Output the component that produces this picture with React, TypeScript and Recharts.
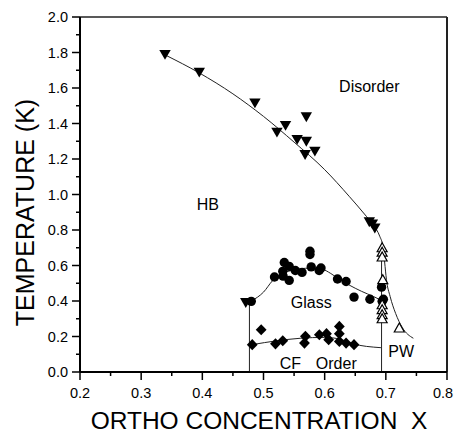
import React from 'react';
import { ComposedChart, XAxis, YAxis, Scatter, Line, ReferenceLine } from 'recharts';

const FONT = '"Liberation Sans", Arial, Helvetica, sans-serif';

const xMajorTicks = [0.2, 0.3, 0.4, 0.5, 0.6, 0.7, 0.8];
const xMinorTicks = [0.25, 0.35, 0.45, 0.55, 0.65, 0.75];
const yMajorTicks = [0, 0.2, 0.4, 0.6, 0.8, 1.0, 1.2, 1.4, 1.6, 1.8, 2.0];
const yMinorTicks = [0.1, 0.3, 0.5, 0.7, 0.9, 1.1, 1.3, 1.5, 1.7, 1.9];

// Filled down-triangles (HB -> Disorder transition)
const hbTriangles: [number, number][] = [
  [0.339, 1.788], [0.395, 1.688], [0.486, 1.515], [0.522, 1.35], [0.536, 1.388],
  [0.555, 1.309], [0.570, 1.437], [0.570, 1.299], [0.568, 1.224], [0.584, 1.243],
  [0.673, 0.845], [0.678, 0.833], [0.682, 0.81], [0.471, 0.39],
];

// Open up-triangles (PW boundary)
const pwTriangles: [number, number][] = [
  [0.694, 0.70], [0.694, 0.675], [0.694, 0.648], [0.695, 0.52],
  [0.694, 0.379], [0.694, 0.351], [0.694, 0.323], [0.694, 0.30], [0.722, 0.248],
];

// Filled circles (glass transition)
const glassCircles: [number, number][] = [
  [0.480, 0.398], [0.518, 0.535], [0.532, 0.54], [0.534, 0.617], [0.5315, 0.567],
  [0.542, 0.595], [0.542, 0.516], [0.552, 0.572], [0.563, 0.561], [0.576, 0.68],
  [0.576, 0.662], [0.578, 0.592], [0.591, 0.572], [0.594, 0.586], [0.621, 0.524],
  [0.635, 0.51], [0.648, 0.422], [0.674, 0.41], [0.693, 0.478], [0.694, 0.398],
  [0.696, 0.41],
];

// Filled diamonds (CF order)
const orderDiamonds: [number, number][] = [
  [0.4816, 0.154], [0.4962, 0.238], [0.5196, 0.159], [0.5315, 0.176], [0.567, 0.163],
  [0.5685, 0.201], [0.5913, 0.21], [0.603, 0.216], [0.6065, 0.182], [0.624, 0.257],
  [0.624, 0.216], [0.624, 0.172], [0.635, 0.163], [0.648, 0.154],
];

// Guide curves
const upperCurve: [number, number][] = [
  [0.34, 1.785], [0.395, 1.685], [0.45, 1.567], [0.50, 1.44], [0.55, 1.295],
  [0.60, 1.14], [0.64, 0.99], [0.665, 0.89], [0.68, 0.825], [0.69, 0.765],
  [0.695, 0.71], [0.698, 0.62], [0.701, 0.52], [0.707, 0.426], [0.716, 0.33],
  [0.727, 0.25], [0.745, 0.19],
];
const glassCurve: [number, number][] = [
  [0.48, 0.40], [0.50, 0.45], [0.515, 0.515], [0.53, 0.553], [0.55, 0.575],
  [0.575, 0.585], [0.595, 0.58], [0.61, 0.555], [0.625, 0.52], [0.64, 0.49],
  [0.66, 0.455], [0.68, 0.425], [0.695, 0.40],
];
const orderCurve: [number, number][] = [
  [0.483, 0.155], [0.52, 0.175], [0.56, 0.19], [0.60, 0.195], [0.625, 0.185],
  [0.645, 0.16], [0.692, 0.137],
];

// Vertical boundary lines: [x, yTop]
const leftBoundary: [number, number] = [0.477, 0.39];
const rightBoundary: [number, number] = [0.693, 0.70];

// Region labels
const regionLabels: { x: number; y: number; text: string }[] = [
  { x: 0.673, y: 1.613, text: 'Disorder' },
  { x: 0.409, y: 0.948, text: 'HB' },
  { x: 0.578, y: 0.396, text: 'Glass' },
  { x: 0.544, y: 0.052, text: 'CF' },
  { x: 0.619, y: 0.052, text: 'Order' },
  { x: 0.725, y: 0.12, text: 'PW' },
];

const toPts = (arr: [number, number][]) => arr.map(([x, y]) => ({ x, y }));

const isIn = (list: number[], v: number) => list.some((t) => Math.abs(t - v) < 1e-6);

const XTick = (props: any) => {
  const { x, y, payload } = props;
  const v = payload.value as number;
  const major = isIn(xMajorTicks, v);
  const tx = Math.min(x, 443);
  return (
    <g>
      <line x1={x} x2={x} y1={y} y2={y + (major ? 8 : 4)} stroke="#000" strokeWidth={1.5} />
      {major && (
        <text x={tx} y={y + 26} textAnchor="middle" fontSize={14.5} fontFamily={FONT} fill="#000">
          {v.toFixed(1)}
        </text>
      )}
    </g>
  );
};

const YTick = (props: any) => {
  const { x, y, payload } = props;
  const v = payload.value as number;
  const major = isIn(yMajorTicks, v);
  return (
    <g>
      <line x1={x - (major ? 8 : 4)} x2={x} y1={y} y2={y} stroke="#000" strokeWidth={1.5} />
      {major && (
        <text x={x - 12} y={y + 5} textAnchor="end" fontSize={14.5} fontFamily={FONT} fill="#000">
          {v.toFixed(1)}
        </text>
      )}
    </g>
  );
};

const DownTri = (p: any) => {
  const { cx, cy } = p;
  if (cx == null || cy == null) return null;
  return <polygon points={`${cx - 5.7},${cy - 4.7} ${cx + 5.7},${cy - 4.7} ${cx},${cy + 5.2}`} fill="#000" />;
};
const UpTri = (p: any) => {
  const { cx, cy } = p;
  if (cx == null || cy == null) return null;
  return (
    <polygon
      points={`${cx},${cy - 5} ${cx + 5},${cy + 4} ${cx - 5},${cy + 4}`}
      fill="#fff"
      stroke="#000"
      strokeWidth={1.2}
    />
  );
};
const Dot = (p: any) => {
  const { cx, cy } = p;
  if (cx == null || cy == null) return null;
  return <circle cx={cx} cy={cy} r={4.7} fill="#000" />;
};
const Diamond = (p: any) => {
  const { cx, cy } = p;
  if (cx == null || cy == null) return null;
  return <polygon points={`${cx},${cy - 5.6} ${cx + 5.4},${cy} ${cx},${cy + 5.6} ${cx - 5.4},${cy}`} fill="#000" />;
};
const LabelShape = (p: any) => {
  const { cx, cy, payload } = p;
  if (cx == null || cy == null) return null;
  return (
    <text x={cx} y={cy + 6} textAnchor="middle" fontSize={16} fontFamily={FONT} fill="#000">
      {payload.text}
    </text>
  );
};

const xTicks = [...xMajorTicks, ...xMinorTicks].sort((a, b) => a - b);
const yTicks = [...yMajorTicks, ...yMinorTicks].sort((a, b) => a - b);

export default function App() {
  return (
    <div style={{ position: 'absolute', left: 0, top: 0, width: 455, height: 435, background: '#fff' }}>
      <ComposedChart width={455} height={435} margin={{ top: 17, right: 8, bottom: 0, left: 0 }}>
        <XAxis
          type="number"
          dataKey="x"
          domain={[0.2, 0.8]}
          ticks={xTicks}
          interval={0}
          allowDataOverflow
          height={63}
          tickSize={0}
          tickMargin={0}
          tickLine={false}
          tick={<XTick />}
          axisLine={{ stroke: '#000', strokeWidth: 2 }}
          label={{
            content: () => (
              <text
                x={259}
                y={429}
                textAnchor="middle"
                fontSize={24.5}
                fontFamily={FONT}
                fill="#000"
                xmlSpace="preserve"
                style={{ whiteSpace: 'pre' }}
              >
                {'ORTHO CONCENTRATION  X'}
              </text>
            ),
          }}
        />
        <YAxis
          type="number"
          dataKey="y"
          domain={[0, 2]}
          ticks={yTicks}
          interval={0}
          allowDataOverflow
          width={80}
          tickSize={0}
          tickMargin={0}
          tickLine={false}
          tick={<YTick />}
          axisLine={{ stroke: '#000', strokeWidth: 2 }}
          label={{
            content: () => (
              <text
                x={33.5}
                y={212.5}
                transform="rotate(-90, 33.5, 212.5)"
                textAnchor="middle"
                fontSize={25}
                fontFamily={FONT}
                fill="#000"
              >
                TEMPERATURE (K)
              </text>
            ),
          }}
        />
        <ReferenceLine y={2} stroke="#222" strokeWidth={1.5} />
        <ReferenceLine x={0.8} stroke="#222" strokeWidth={2} />
        <ReferenceLine
          segment={[{ x: leftBoundary[0], y: 0 }, { x: leftBoundary[0], y: leftBoundary[1] }]}
          stroke="#222"
          strokeWidth={1}
        />
        <ReferenceLine
          segment={[{ x: rightBoundary[0], y: 0 }, { x: rightBoundary[0], y: rightBoundary[1] }]}
          stroke="#222"
          strokeWidth={1}
        />
        <Line data={toPts(upperCurve)} dataKey="y" type="monotone" stroke="#222" strokeWidth={1} dot={false} activeDot={false} isAnimationActive={false} />
        <Line data={toPts(glassCurve)} dataKey="y" type="monotone" stroke="#222" strokeWidth={1} dot={false} activeDot={false} isAnimationActive={false} />
        <Line data={toPts(orderCurve)} dataKey="y" type="monotone" stroke="#222" strokeWidth={1} dot={false} activeDot={false} isAnimationActive={false} />
        <Scatter data={toPts(glassCircles)} dataKey="y" shape={Dot} isAnimationActive={false} />
        <Scatter data={toPts(orderDiamonds)} dataKey="y" shape={Diamond} isAnimationActive={false} />
        <Scatter data={toPts(pwTriangles)} dataKey="y" shape={UpTri} isAnimationActive={false} />
        <Scatter data={toPts(hbTriangles)} dataKey="y" shape={DownTri} isAnimationActive={false} />
        <Scatter data={regionLabels} dataKey="y" shape={LabelShape} isAnimationActive={false} />
      </ComposedChart>
    </div>
  );
}
